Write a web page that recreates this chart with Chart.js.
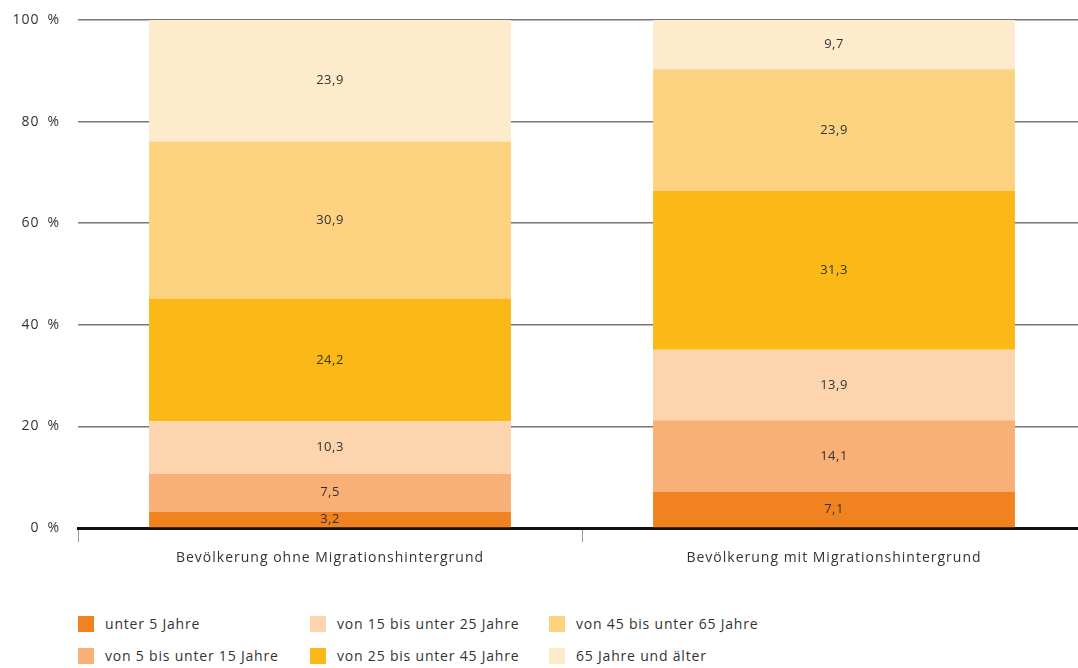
<!DOCTYPE html>
<html lang="de">
<head>
<meta charset="utf-8">
<script src="https://cdn.jsdelivr.net/npm/chart.js@4.4.1/dist/chart.umd.min.js"></script>
<style>
  html, body { margin: 0; padding: 0; background: #fff; overflow: hidden; }
  #wrap { position: relative; width: 1078px; height: 668px; overflow: hidden; }
  #chartBox { position: absolute; left: 0; top: 0; width: 1090px; height: 590px; }
  .legend { position: absolute; left: 0; top: 0; font-family: "Open Sans", sans-serif; font-size: 14px; color: #333; letter-spacing: 0.8px; }
  .item { position: absolute; white-space: nowrap; line-height: 16px; }
  .item .sw { position: absolute; left: 0; top: 0; width: 16px; height: 16px; }
  .item .tx { position: absolute; left: 27px; top: 0; }
</style>
</head>
<body>
<div id="wrap">
  <div id="chartBox"><canvas id="c" width="1090" height="590"></canvas></div>
  <div class="legend" id="legend"></div>
</div>
<script>
// Bevölkerung nach Altersgruppen und Migrationshintergrund (Anteile in %)
const categories = ["Bevölkerung ohne Migrationshintergrund", "Bevölkerung mit Migrationshintergrund"];
const ageGroups = ["unter 5 Jahre", "von 5 bis unter 15 Jahre", "von 15 bis unter 25 Jahre",
                   "von 25 bis unter 45 Jahre", "von 45 bis unter 65 Jahre", "65 Jahre und älter"];
const under5   = [3.2, 7.1];
const from5    = [7.5, 14.1];
const from15   = [10.3, 13.9];
const from25   = [24.2, 31.3];
const from45   = [30.9, 23.9];
const over65   = [23.9, 9.7];
const colors = ["#f0821f", "#f9b077", "#fcd4ae", "#fbb817", "#fdd280", "#feebcb"];
const yTicks = [0, 20, 40, 60, 80, 100];

const seriesValues = [under5, from5, from15, from25, from45, over65];
const fmt = v => v.toFixed(1).replace(".", ",");
const FONT = "'Open Sans', sans-serif";

// slightly spaced lettering for every text on the canvas
const spacing = {
  id: "spacing",
  beforeDraw(chart) { chart.ctx.letterSpacing = "1px"; }
};

// writes each segment's value into the middle of its bar piece
const segmentLabels = {
  id: "segmentLabels",
  afterDatasetsDraw(chart) {
    const ctx = chart.ctx;
    ctx.save();
    ctx.letterSpacing = "0.5px";
    ctx.font = "13px " + FONT;
    ctx.fillStyle = "#333";
    ctx.textAlign = "center";
    ctx.textBaseline = "middle";
    chart.data.datasets.forEach((ds, i) => {
      chart.getDatasetMeta(i).data.forEach((bar, j) => {
        const p = bar.getProps(["x", "y", "base"], true);
        ctx.fillText(fmt(ds.data[j]), p.x, (p.y + p.base) / 2);
      });
    });
    ctx.restore();
  }
};

new Chart(document.getElementById("c"), {
  type: "bar",
  data: {
    labels: categories,
    datasets: ageGroups.map((name, i) => ({
      label: name,
      data: seriesValues[i],
      backgroundColor: colors[i],
      borderWidth: 0,
      categoryPercentage: 1,
      barPercentage: 0.718
    }))
  },
  options: {
    responsive: false,
    animation: false,
    layout: { padding: { top: 20, right: 4, bottom: 0, left: 0 } },
    plugins: { legend: { display: false }, tooltip: { enabled: false } },
    scales: {
      x: {
        stacked: true,
        afterFit: s => { s.height = 62; },
        border: { display: true, color: "#111", width: 3 },
        grid: { offset: true, drawOnChartArea: false, drawTicks: true, tickLength: 14, color: "#999", lineWidth: 1 },
        ticks: { color: "#333", padding: 8, font: { family: FONT, size: 14 } }
      },
      y: {
        stacked: true,
        min: 0, max: 100,
        afterFit: s => { s.width = 78; s.paddingTop = 10; s.paddingBottom = 10; },
        afterBuildTicks: s => { s.ticks = yTicks.map(v => ({ value: v })); },
        border: { display: false },
        grid: { color: "#777", lineWidth: 1.5, drawTicks: false },
        ticks: {
          color: "#333", padding: 18,
          font: { family: FONT, size: 14 },
          callback: v => v + "\u2002%"
        }
      }
    }
  },
  plugins: [spacing, segmentLabels]
});

// legend, filled column by column (three columns, two rows)
const legend = document.getElementById("legend");
const colX = [78, 310, 549];
const rowY = [616, 648];
ageGroups.forEach((name, i) => {
  const el = document.createElement("div");
  el.className = "item";
  el.style.left = colX[Math.floor(i / 2)] + "px";
  el.style.top = rowY[i % 2] + "px";
  el.innerHTML = '<span class="sw" style="background:' + colors[i] + '"></span><span class="tx"></span>';
  el.querySelector(".tx").textContent = name;
  legend.appendChild(el);
});
</script>
</body>
</html>
